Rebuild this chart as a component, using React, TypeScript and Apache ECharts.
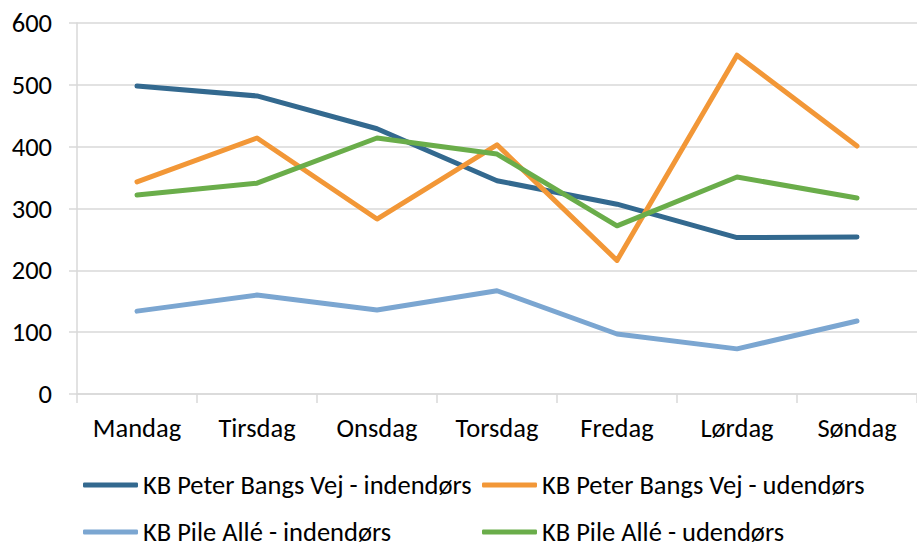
import React, { useEffect, useRef } from "react";
import * as echarts from "echarts";

const days = ["Mandag", "Tirsdag", "Onsdag", "Torsdag", "Fredag", "Lørdag", "Søndag"];

const seriesNames = [
  "KB Peter Bangs Vej - indendørs",
  "KB Peter Bangs Vej - udendørs",
  "KB Pile Allé - indendørs",
  "KB Pile Allé - udendørs",
];

const peterIndoor = [498, 482, 429, 345, 307, 253, 254];
const peterOutdoor = [343, 414, 283, 403, 216, 548, 401];
const pileIndoor = [134, 160, 136, 167, 97, 73, 118];
const pileOutdoor = [322, 341, 414, 388, 272, 351, 317];

const seriesColors = ["#33698f", "#f29737", "#7ba6d1", "#6aad4a"];

// legend slot for each series: [left, vertical centre]
const legendSlots = [
  [83, 485],
  [482, 485],
  [83, 532],
  [482, 532],
];

const FONT = "Carlito, Lato, 'Noto Sans', sans-serif";
const FONT_SIZE = 26.5;
const GRID_GRAY = "#d9d9d9";

export default function App() {
  const ref = useRef<HTMLDivElement>(null);

  useEffect(() => {
    if (!ref.current) return;
    const chart = echarts.init(ref.current, undefined, { renderer: "svg" });
    const values = [peterIndoor, peterOutdoor, pileIndoor, pileOutdoor];

    const legendText = {
      fontFamily: FONT,
      fontSize: FONT_SIZE,
      color: "#000",
      lineHeight: 30,
    };

    chart.setOption({
      animation: false,
      textStyle: { fontFamily: FONT },
      grid: { left: 77, top: 23, right: -7, bottom: 149 },
      legend: seriesNames.map((name, i) => ({
        orient: "horizontal",
        left: legendSlots[i][0],
        top: legendSlots[i][1] - 15,
        itemWidth: 55,
        itemHeight: 5,
        itemGap: 0,
        icon: "roundRect",
        padding: 0,
        data: [name],
        textStyle: legendText,
      })),
      xAxis: {
        type: "category",
        data: days,
        boundaryGap: true,
        axisLine: { show: true, lineStyle: { color: GRID_GRAY, width: 1.5 } },
        axisTick: { show: true, length: 9, lineStyle: { color: GRID_GRAY, width: 1.5 } },
        axisLabel: { fontFamily: FONT, fontSize: FONT_SIZE, color: "#000", margin: 20 },
      },
      yAxis: {
        type: "value",
        min: 0,
        max: 600,
        interval: 100,
        axisLine: { show: true, lineStyle: { color: GRID_GRAY, width: 1.5 } },
        axisTick: { show: true, length: 8, lineStyle: { color: GRID_GRAY, width: 1.5 } },
        splitLine: { show: true, lineStyle: { color: GRID_GRAY, width: 1.5 } },
        axisLabel: { fontFamily: FONT, fontSize: FONT_SIZE, color: "#000", margin: 25 },
      },
      series: values.map((v, i) => ({
        name: seriesNames[i],
        type: "line",
        data: v,
        symbol: "none",
        showSymbol: false,
        color: seriesColors[i],
        lineStyle: { width: 5, color: seriesColors[i], cap: "round", join: "round" },
      })),
    });

    return () => chart.dispose();
  }, []);

  return <div ref={ref} style={{ width: 917, height: 543, position: "absolute", left: 0, top: 0 }} />;
}
